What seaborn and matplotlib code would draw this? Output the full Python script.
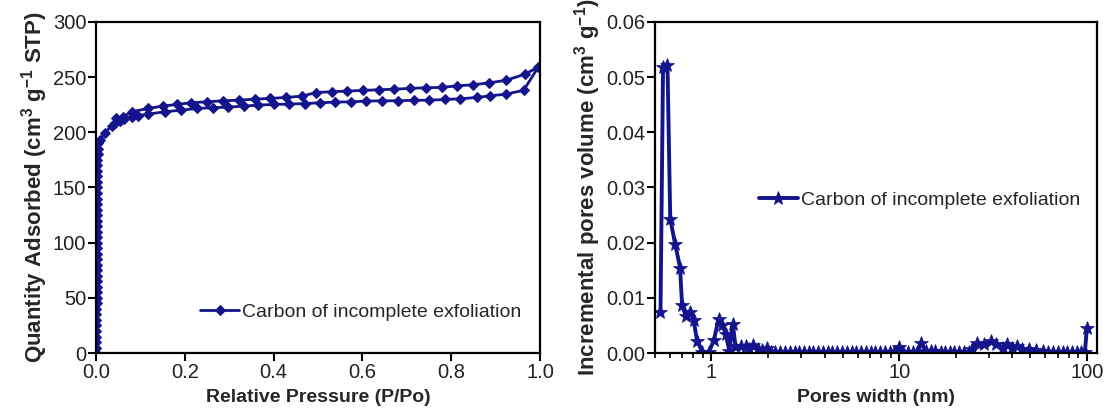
import matplotlib
matplotlib.use("Agg")
import matplotlib.pyplot as plt
import matplotlib.ticker as mticker
import seaborn as sns

# ===============================
# data
# ===============================
# isotherm: adsorption branch (vertical part, then lower branch) + desorption branch
iso_p = [0.0008, 0.0008, 0.0008, 0.0009, 0.0009, 0.0009, 0.0010, 0.0010, 0.0010, 0.0011,
         0.0011, 0.0011, 0.0012, 0.0012, 0.0012, 0.0013, 0.0013, 0.0013, 0.0014, 0.0014,
         0.0015, 0.0015, 0.0016, 0.0016, 0.0017, 0.0017, 0.0018, 0.0019, 0.0020, 0.0021,
         0.0022, 0.0023, 0.0025, 0.0027, 0.0029, 0.0032, 0.0036, 0.0042,
         0.005, 0.009, 0.020, 0.035, 0.043, 0.055, 0.063, 0.081, 0.095, 0.118, 0.156, 0.192,
         0.228, 0.264, 0.298, 0.333, 0.365, 0.400, 0.435, 0.470, 0.504, 0.538, 0.574, 0.608,
         0.644, 0.679, 0.716, 0.750, 0.786, 0.820, 0.857, 0.888, 0.923, 0.963, 0.996,
         0.966, 0.923, 0.886, 0.849, 0.812, 0.778, 0.742, 0.707, 0.672, 0.637, 0.602, 0.565,
         0.531, 0.496, 0.463, 0.427, 0.391, 0.357, 0.321, 0.286, 0.250, 0.213, 0.183, 0.151,
         0.118, 0.081, 0.060, 0.044]
iso_q = [0, 5, 10, 15, 20, 25, 30, 35, 40, 45,
         50, 55, 60, 65, 70, 75, 80, 85, 90, 95,
         100, 105, 110, 115, 120, 125, 130, 135, 140, 145,
         150, 155, 160, 165, 170, 175, 180, 185,
         190, 193, 199.7, 205.5, 208, 210.5, 211.6, 214, 215, 216.5, 218.6, 220,
         221.6, 222.2, 222.8, 223.7, 224.6, 225.2, 225.5, 226, 226.7, 227.3, 227.6, 228.2,
         228.5, 228.5, 229, 229, 229.7, 230.3, 231.5, 233, 234.5, 238, 259,
         252.6, 247, 244.8, 243, 242, 240.6, 240.3, 239.7, 239, 238.5, 237.9, 237.3,
         236.7, 236, 232.7, 231.5, 230.6, 230, 229, 228.5, 227.6, 226.7, 225.2, 223.7,
         221.6, 218.6, 214, 212.5]

# pore size distribution
pore_w = [0.535, 0.552, 0.583, 0.603, 0.640, 0.680, 0.697, 0.728, 0.770, 0.803, 0.838,
          0.894, 0.969, 1.030, 1.090, 1.143, 1.190, 1.245, 1.300, 1.340, 1.430, 1.520,
          1.590, 1.660, 1.770, 1.860, 1.970,
          2.07, 2.19, 2.32, 2.46, 2.61, 2.77, 2.93, 3.11, 3.30, 3.49, 3.70, 3.93, 4.16,
          4.41, 4.68, 4.96, 5.26, 5.57, 5.91, 6.26, 6.64, 7.04, 7.46, 7.91, 8.38, 8.89,
          9.42, 9.95, 10.5, 11.1, 11.8, 12.5, 13.1, 13.9, 14.7, 15.6, 16.6, 17.6, 18.6,
          19.7, 20.9, 22.2, 23.5, 24.3, 25.9, 28.3, 30.8, 32.8, 35.7, 37.3, 39.7, 42.4,
          45.1, 49.2, 53.5, 58.3, 62.2, 65.9, 69.9, 74.1, 78.5, 83.2, 88.2, 93.5, 97.5,
          100.0]
pore_v = [0.0074, 0.0518, 0.0521, 0.0243, 0.0198, 0.0155, 0.0088, 0.0068, 0.0074, 0.0060,
          0.0022, 0.0002, 0.0002, 0.0023, 0.0062, 0.0050, 0.0035, 0.0004, 0.0053, 0.0013,
          0.0013, 0.0012, 0.0007, 0.0015, 0.0007, 0.0005, 0.0009,
          0.0002, 0.0002, 0.0002, 0.0002, 0.0002, 0.0002, 0.0002, 0.0002, 0.0002, 0.0002,
          0.0002, 0.0002, 0.0002, 0.0002, 0.0002, 0.0002, 0.0002, 0.0002, 0.0002, 0.0002,
          0.0002, 0.0002, 0.0002, 0.0002, 0.0002, 0.0002, 0.0002, 0.0011, 0.0002, 0.0002,
          0.0002, 0.0002, 0.0018, 0.0003, 0.0004, 0.0003, 0.0002, 0.0002, 0.0002, 0.0002,
          0.0002, 0.0002, 0.0002, 0.0007, 0.0018, 0.0016, 0.0021, 0.0016, 0.0010, 0.0016,
          0.0010, 0.0013, 0.0007, 0.0007, 0.0005, 0.0004, 0.0002, 0.0002, 0.0002, 0.0002,
          0.0002, 0.0002, 0.0002, 0.0002, 0.0002, 0.0046]

label = 'Carbon of incomplete exfoliation'
navy = '#14148c'

# ===============================
# style
# ===============================
sns.set_style("ticks")
plt.rcParams['font.family'] = ['Liberation Sans', 'DejaVu Sans']
plt.rcParams['mathtext.default'] = 'regular'

fig = plt.figure(figsize=(11.09, 4.12), dpi=100)
ax1 = fig.add_axes([0.0866, 0.143, 0.4004, 0.804])
ax2 = fig.add_axes([0.5906, 0.143, 0.3985, 0.804])

# ===============================
# left: isotherm
# ===============================
sns.lineplot(x=iso_p, y=iso_q, sort=False, estimator=None, ax=ax1, color=navy,
             marker='D', markersize=5.5, markeredgecolor=navy, linewidth=2, label=label)
ax1.set_xlim(0, 1.0)
ax1.set_ylim(0, 300)
ax1.xaxis.set_major_locator(mticker.MultipleLocator(0.2))
ax1.xaxis.set_major_formatter(mticker.FormatStrFormatter('%.1f'))
ax1.yaxis.set_major_locator(mticker.MultipleLocator(50))
ax1.set_xlabel('Relative Pressure (P/Po)', fontsize=14, fontweight='bold')
ax1.set_ylabel('Quantity Adsorbed (cm$^{3}$ g$^{-1}$ STP)', fontsize=16, fontweight='bold')
ax1.legend(loc='center left', bbox_to_anchor=(0.235, 0.124), frameon=False, fontsize=14,
           handlelength=2.0, handletextpad=0.15, borderpad=0, borderaxespad=0)

# ===============================
# right: pore size distribution
# ===============================
sns.lineplot(x=pore_w, y=pore_v, sort=False, estimator=None, ax=ax2, color=navy,
             marker='*', markersize=10, markeredgecolor=navy, markeredgewidth=0.5,
             linewidth=2.8, label=label)
ax2.set_xscale('log')
ax2.set_xlim(0.5, 113)
ax2.set_ylim(0, 0.06)
ax2.xaxis.set_major_locator(mticker.FixedLocator([1, 10, 100]))
ax2.xaxis.set_major_formatter(mticker.FixedFormatter(['1', '10', '100']))
ax2.yaxis.set_major_locator(mticker.MultipleLocator(0.01))
ax2.yaxis.set_major_formatter(mticker.FormatStrFormatter('%.2f'))
ax2.set_xlabel('Pores width (nm)', fontsize=14, fontweight='bold')
ax2.set_ylabel('Incremental pores volume (cm$^{3}$ g$^{-1}$)', fontsize=16, fontweight='bold')
ax2.legend(loc='center left', bbox_to_anchor=(0.235, 0.462), frameon=False, fontsize=14,
           handlelength=2.0, handletextpad=0.15, borderpad=0, borderaxespad=0)

for ax in (ax1, ax2):
    for s in ax.spines.values():
        s.set_visible(True)
        s.set_linewidth(1.6)
        s.set_color('black')
    ax.tick_params(axis='both', which='major', direction='out', length=5.5, width=1.5,
                   labelsize=14.5, colors='black', labelcolor='#222222', pad=1.5)
    ax.tick_params(axis='both', which='minor', direction='out', length=3.5, width=1.2,
                   colors='black')
    ax.xaxis.labelpad = 5
    ax.yaxis.labelpad = 2

fig.savefig('out.png', dpi=100)
